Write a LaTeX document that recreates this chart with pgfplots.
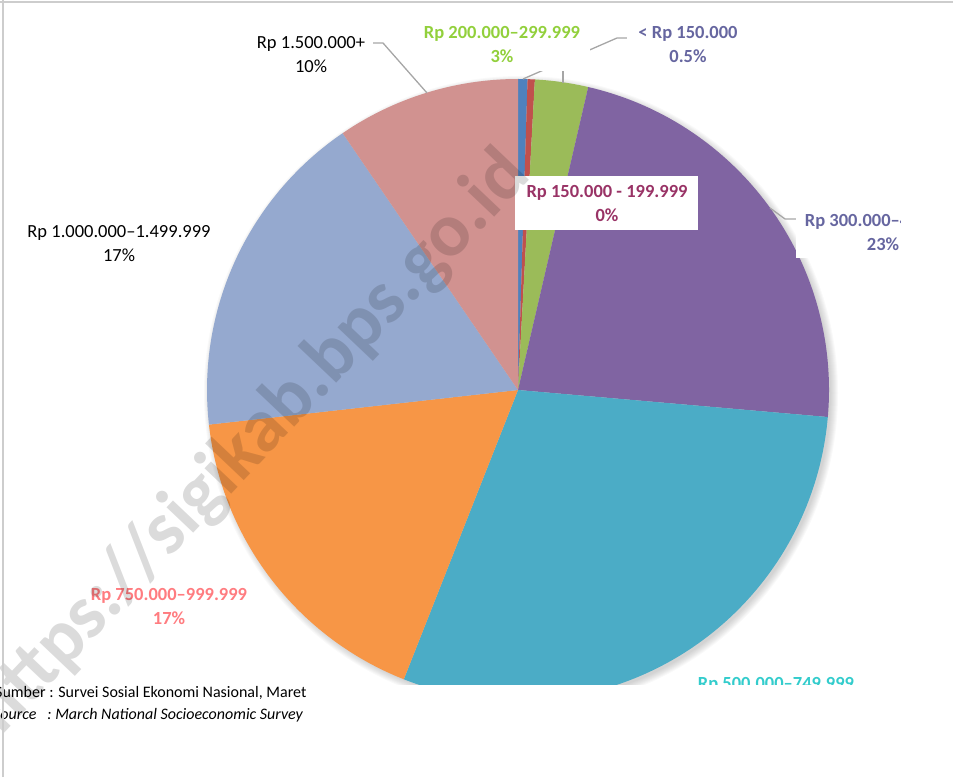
\documentclass[border=0pt]{standalone}
\usepackage{pgfplots}
\pgfplotsset{compat=1.18}
\usepackage{pgfplotstable}
\usepackage{fontspec}
\setmainfont{Carlito}
\definecolor{c0}{RGB}{79,129,189}
\definecolor{c1}{RGB}{192,80,77}
\definecolor{c2}{RGB}{155,187,89}
\definecolor{c3}{RGB}{128,100,162}
\definecolor{c4}{RGB}{75,172,198}
\definecolor{c5}{RGB}{247,150,70}
\definecolor{c6}{RGB}{149,169,207}
\definecolor{c7}{RGB}{209,146,144}
\definecolor{leader}{RGB}{166,166,166}
\definecolor{frame}{RGB}{205,205,205}
\definecolor{lgreen}{RGB}{146,208,60}
\definecolor{lslate}{RGB}{102,102,160}
\definecolor{lmaroon}{RGB}{153,51,102}
\definecolor{lcyan}{RGB}{51,204,204}
\definecolor{lsalmon}{RGB}{255,124,128}
\tikzset{
  lab/.style={font=\fontsize{18.5}{24}\selectfont, align=center},
  blab/.style={font=\fontsize{18.5}{24}\selectfont\bfseries, align=center},
}
\pgfplotstableread{
idx value
0 0.49
1 0.375
2 2.76
3 22.76
4 29.6
5 17.24
6 17.24
7 9.535
}\piedata
\begin{document}
\begin{tikzpicture}
\begin{axis}[x=1pt,y=1pt,xmin=0,xmax=953,ymin=0,ymax=777,hide axis,clip=true]
% shadow
\pgfplotsforeachungrouped \k in {1,...,8}{%
  \edef\tmp{\noexpand\fill[black,opacity=0.022] (axis cs:521,384) circle[radius=\the\numexpr 309+\k\relax pt];}
  \tmp
}
% pie slices
\def\cum{0}
\pgfplotsforeachungrouped \i in {0,...,7}{%
  \pgfplotstablegetelem{\i}{value}\of\piedata
  \let\v\pgfplotsretval
  \pgfmathsetmacro\a{90-3.6*\cum}
  \pgfmathsetmacro\cum{\cum+\v}
  \pgfmathsetmacro\b{90-3.6*\cum}
  \edef\tmp{\noexpand\fill[c\i] (axis cs:518,387) -- ++(\a:311pt) arc[start angle=\a, end angle=\b, radius=311pt] -- cycle;}
  \tmp
}
% leader lines
\draw[leader, line width=1.3pt] (axis cs:373,734) -- (axis cs:383,734) -- (axis cs:427,684);
\draw[leader, line width=1.3pt] (axis cs:523,698) -- (axis cs:617,739) -- (axis cs:627,739);
\draw[leader, line width=1.3pt] (axis cs:563,694) -- (axis cs:563,720);
\draw[leader, line width=1.3pt] (axis cs:770,569) -- (axis cs:785,558) -- (axis cs:797,558);
% label boxes
\fill[white] (axis cs:415,706) rectangle (axis cs:590,767);
\fill[white] (axis cs:627,706) rectangle (axis cs:750,767);
\fill[white] (axis cs:250,700) rectangle (axis cs:373,760);
\fill[white] (axis cs:515,547) rectangle (axis cs:698,601);
\fill[white] (axis cs:796,519) rectangle (axis cs:900,581);
% labels
\node[lab, text=black] at (axis cs:311,722) {Rp 1.500.000+\\10\%};
\node[blab, text=lgreen] at (axis cs:502,732) {Rp 200.000--299.999\\3\%};
\node[blab, text=lslate] at (axis cs:688,732) {< Rp 150.000\\0.5\%};
\node[blab, text=lmaroon] at (axis cs:607,573.5) {Rp 150.000 - 199.999\\0\%};
\begin{scope}
\clip (axis cs:796,519) rectangle (axis cs:900,581);
\node[blab, text=lslate] at (axis cs:883,544) {Rp 300.000--499.999\\23\%};
\end{scope}
\node[blab, text=lcyan, anchor=base] at (axis cs:776,88) {Rp 500.000--749.999};
\node[blab, text=lsalmon] at (axis cs:169,170.5) {Rp 750.000--999.999\\17\%};
\node[lab, text=black] at (axis cs:119,533.5) {Rp 1.000.000--1.499.999\\17\%};
% cropped bottom part
\fill[white] (axis cs:0,0) rectangle (axis cs:953,92);
\node[anchor=base west, inner sep=0pt, font=\fontsize{16}{19}\selectfont] at (axis cs:-5,80) {Sumber : Survei Sosial Ekonomi Nasional, Maret};
\node[anchor=base west, inner sep=0pt, font=\fontsize{16}{19}\selectfont\itshape] at (axis cs:-7,58) {Source\ \ \ :\ March National Socioeconomic Survey};
% watermark
\node[rotate=46.5, text=black, opacity=0.14, font=\fontsize{76}{76}\selectfont\bfseries] at (axis cs:252,334) {https://sigikab.bps.go.id};
% frame
\draw[frame, line width=1.6pt] (axis cs:0,775) -- (axis cs:953,775);
\draw[frame, line width=1.6pt] (axis cs:3,0) -- (axis cs:3,777);
\end{axis}
\pgfresetboundingbox
\path (current axis.south west) rectangle (current axis.north east);
\end{tikzpicture}
\end{document}
